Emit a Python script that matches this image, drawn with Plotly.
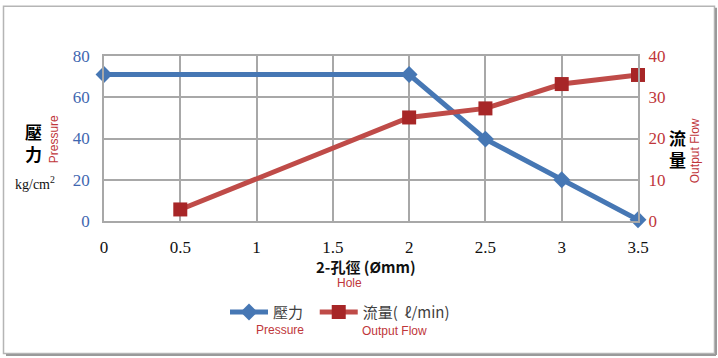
import plotly.graph_objects as go

hole_mm = [0, 0.5, 1, 1.5, 2, 2.5, 3, 3.5]
pressure = [71, None, None, None, 71, 39.7, 20, 0.6]
flow = [None, 2.8, None, None, 25.1, 27.3, 33.2, 35.4]

x_ticks = [0, 0.5, 1, 1.5, 2, 2.5, 3, 3.5]
x_ticklabels = ["0", "0.5", "1", "1.5", "2", "2.5", "3", "3.5"]

BLUE = "#4677B4"
RED_LINE = "#BF4B48"
RED_MARK = "#A72627"
GRID = "#A8A8A8"
SERIF = "Liberation Serif"
CJK = "Noto Sans CJK TC"

W, H = 718, 358
L, R, T, B = 104, 718 - 638, 55.5, 358 - 221

fig = go.Figure()
fig.add_trace(go.Scatter(
    x=hole_mm, y=pressure, name="壓力  ", mode="lines+markers", connectgaps=True,
    line=dict(color=BLUE, width=5), cliponaxis=False,
    marker=dict(symbol="diamond", size=13, color=BLUE),
    yaxis="y"))
fig.add_trace(go.Scatter(
    x=hole_mm, y=flow, name="流量(  ℓ/min)", mode="lines+markers", connectgaps=True,
    line=dict(color=RED_LINE, width=5), cliponaxis=False,
    marker=dict(symbol="square", size=14, color=RED_MARK),
    yaxis="y2"))

def px(x):
    return (x - L) / (W - L - R)

def py(y):
    return 1 - (y - T) / (H - T - B)

fig.update_layout(
    width=W, height=H,
    margin=dict(l=L, r=R, t=T, b=B),
    paper_bgcolor="white", plot_bgcolor="white",
    showlegend=True,
    legend=dict(orientation="h", x=px(225), y=py(296), xanchor="left", yanchor="top",
                font=dict(family=CJK, size=15, color="#404040"),
                itemwidth=38, tracegroupgap=0, bgcolor="rgba(0,0,0,0)"),
    xaxis=dict(range=[0, 3.5], tickvals=x_ticks, ticktext=x_ticklabels,
               showgrid=True, gridcolor=GRID, gridwidth=1.5,
               showline=True, linecolor=GRID, linewidth=1.5, mirror=True,
               zeroline=False, ticks="outside", ticklen=10, tickcolor="rgba(0,0,0,0)",
               tickfont=dict(family=SERIF, size=17, color="#111111")),
    yaxis=dict(range=[0, 80], dtick=20,
               showgrid=True, gridcolor=GRID, gridwidth=1.5,
               showline=True, linecolor=GRID, linewidth=1.5, mirror=True,
               zeroline=False, ticks="outside", ticklen=9, tickcolor="rgba(0,0,0,0)",
               tickfont=dict(family=SERIF, size=17, color="#3F67B0")),
    yaxis2=dict(range=[0, 40], dtick=10, overlaying="y", side="right",
                showgrid=False, zeroline=False, showline=False,
                ticks="outside", ticklen=6, tickcolor="rgba(0,0,0,0)",
                tickfont=dict(family=SERIF, size=17, color="#C0363A")),
)

ann = []
def add(text, x, y, size, color, family, bold=False, angle=0):
    if bold:
        text = "<b>" + text + "</b>"
    ann.append(dict(text=text, x=px(x), y=py(y), xref="paper", yref="paper",
                    showarrow=False, xanchor="center", yanchor="middle",
                    textangle=angle, font=dict(size=size, color=color, family=family)))

add("壓<br>力", 33, 142, 17, "#000000", CJK, bold=True)
add("Pressure", 54, 139, 12, "#C0363A", "Liberation Sans", angle=-90)
add("kg/cm<sup>2</sup>", 35, 183, 14, "#111111", SERIF)
add("流<br>量", 677, 148, 17, "#000000", CJK, bold=True)
add("Output Flow", 695, 151, 12, "#C0363A", "Liberation Sans", angle=-90)
add("2-孔徑 (Ømm)", 366, 267, 15, "#111111", CJK, bold=True)
add("Hole", 349, 283, 12, "#C0363A", "Liberation Sans")
add("Pressure", 280, 330, 12, "#C0363A", "Liberation Sans")
add("Output Flow", 394, 331, 12, "#C0363A", "Liberation Sans")
fig.update_layout(annotations=ann)

fig.add_shape(type="rect", xref="paper", yref="paper",
              x0=px(3.5), x1=px(714.5), y0=py(354), y1=py(5.5),
              line=dict(color="#B5B5B5", width=1.5), layer="below")
fig.add_shape(type="line", xref="paper", yref="paper",
              x0=px(6), x1=px(716), y0=py(355.5), y1=py(355.5),
              line=dict(color="#9A9A9A", width=2))
fig.add_shape(type="line", xref="paper", yref="paper",
              x0=px(716), x1=px(716), y0=py(7), y1=py(355.5),
              line=dict(color="#9A9A9A", width=2))

fig.write_html("out.html", config={"displayModeBar": False},
               post_script="document.body.style.margin='0';")
